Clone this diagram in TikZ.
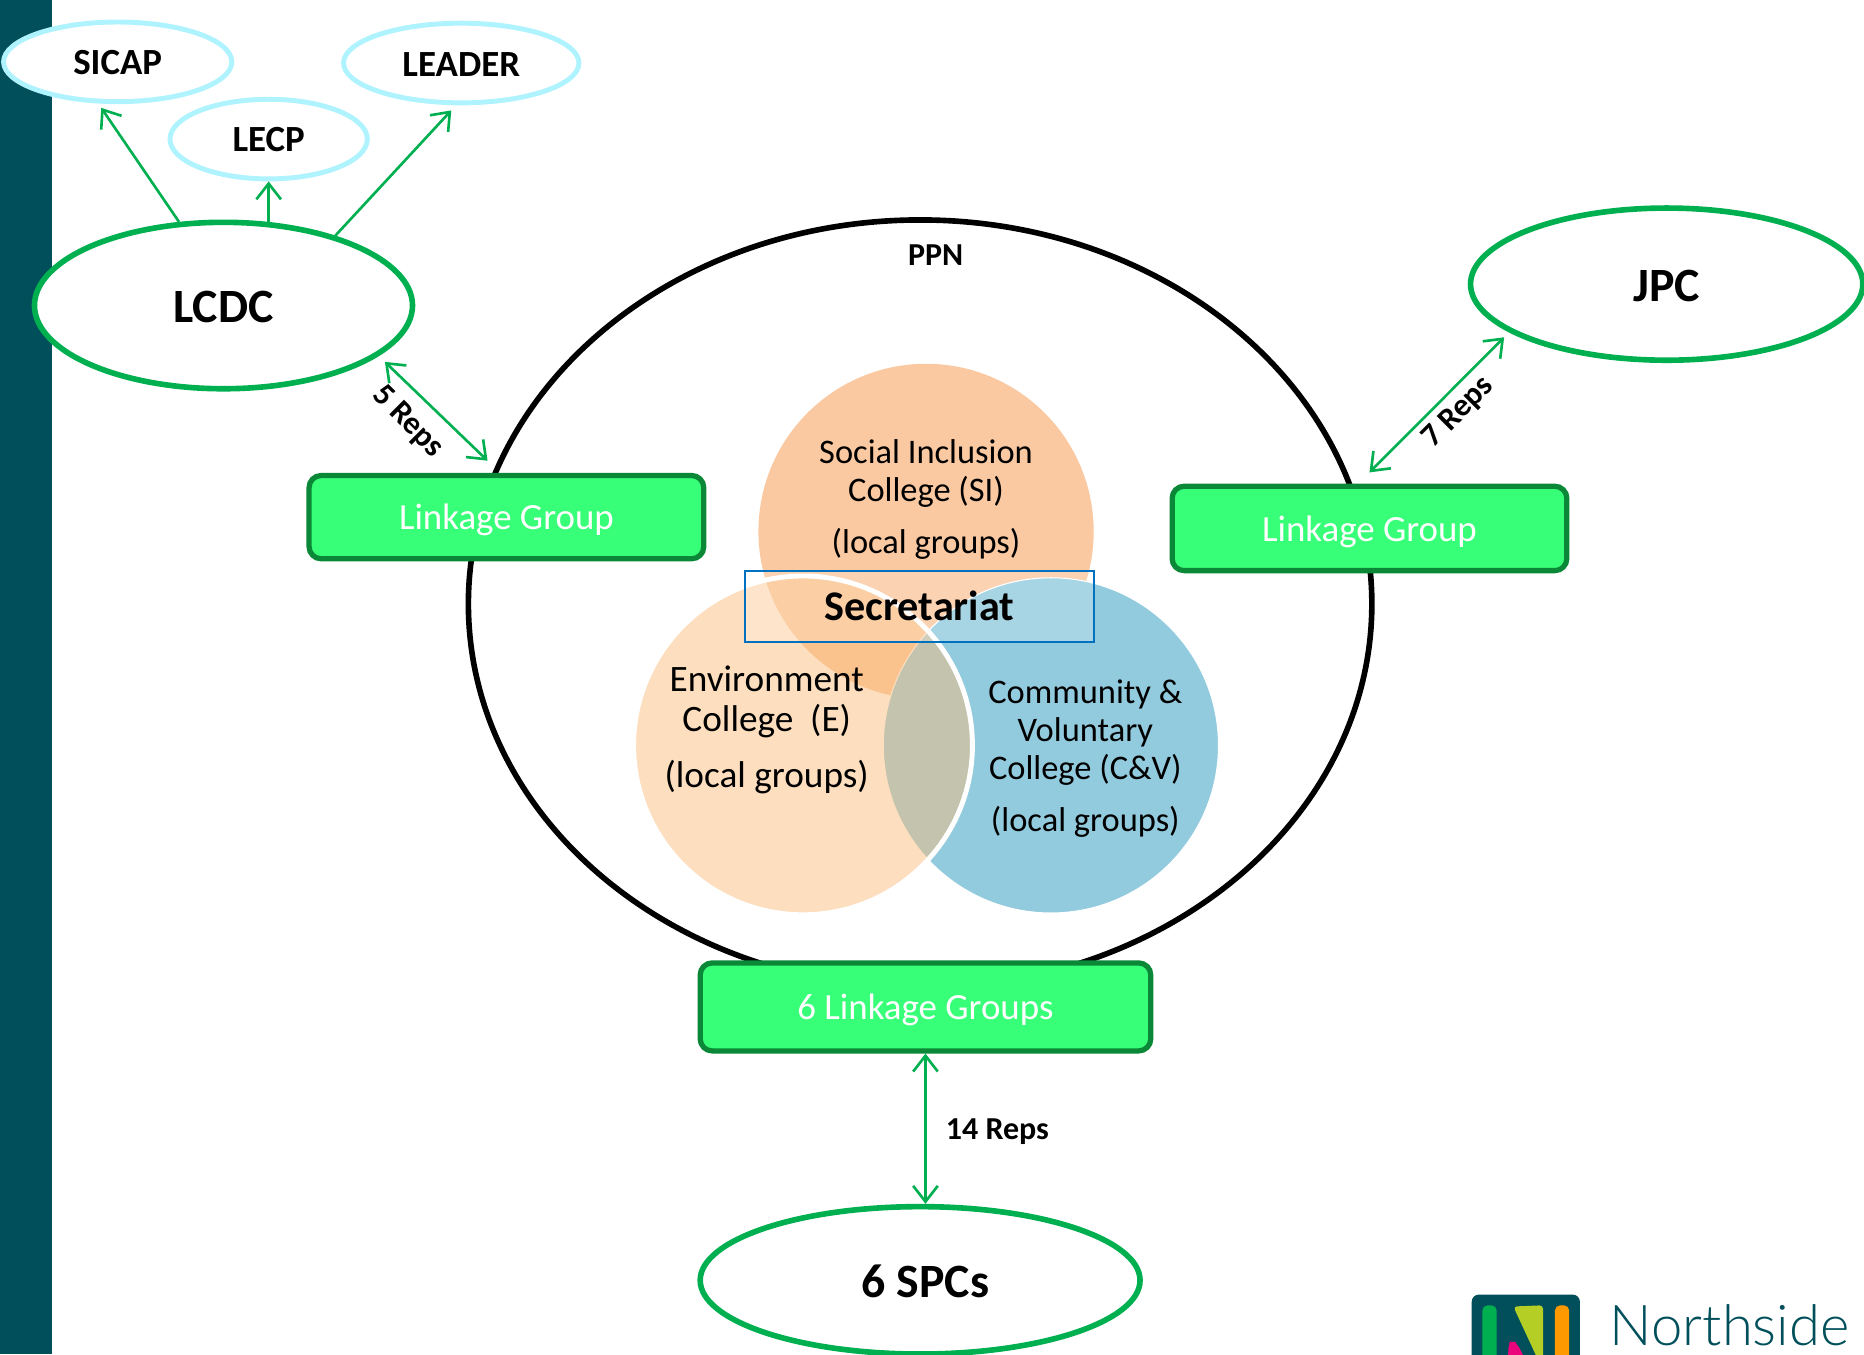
\documentclass[tikz,border=0pt]{standalone}
\usepackage{fontspec}
\setmainfont{Carlito}
\newfontfamily\logofont{Lato Light}
\usetikzlibrary{arrows.meta,shapes.geometric}
\definecolor{sidebar}{RGB}{0,79,90}
\definecolor{linkfill}{RGB}{56,255,120}
\definecolor{linkedge}{RGB}{10,135,55}
\definecolor{bodygreen}{RGB}{0,176,80}
\definecolor{planblue}{RGB}{175,243,255}
\definecolor{SI}{RGB}{250,201,161}
\definecolor{E}{RGB}{251,188,120}
\definecolor{CV}{RGB}{147,203,222}
\definecolor{secblue}{RGB}{0,112,192}
\tikzset{
  pxsize/.style 2 args={minimum width=#1*0.0118878cm,minimum height=#2*0.0118878cm},
  bodyoval/.style={ellipse,draw=bodygreen,fill=white,line width=1.6pt,inner sep=0pt,text height=10pt,font=\bfseries\fontsize{13.6}{16}\selectfont},
  planoval/.style={ellipse,draw=planblue,fill=white,line width=1.4pt,inner sep=0pt,text height=7.4pt,font=\bfseries\fontsize{10.5}{12}\selectfont},
  linkbox/.style={rectangle,rounded corners=0.12cm,draw=linkedge,fill=linkfill,line width=1.5pt,text=white,text depth=0pt,font=\fontsize{10.5}{12}\selectfont},
  collegecircle/.style={circle,pxsize={282}{282},inner sep=0pt},
  collegetext/.style={align=center,font=\fontsize{9.8}{10.8}\selectfont},
  repsline/.style={draw=bodygreen,line width=0.75pt,>={Straight Barb[length=4.5pt,width=7pt]}},
  repstext/.style={font=\bfseries\fontsize{9.1}{11}\selectfont}
}
\begin{document}
\begin{tikzpicture}[x=0.0118878cm,y=-0.0118878cm]
\clip (0,0) rectangle (1568,1139);
\fill[sidebar] (0,0) rectangle (44,1139);
% outer ring
\node[ellipse,draw=black,fill=white,line width=1.6pt,inner sep=0pt,pxsize={760}{646}] (ppn) at (774,508) {};
\node[repstext] (ppntext) at (787,215) {PPN};
% colleges
\node[collegecircle,fill=SI] (sicircle) at (779,447) {};
\node[collegecircle,fill=CV,draw=white,line width=0.3pt] (cvcircle) at (884,627) {};
\node[collegecircle,fill=E,fill opacity=.48,draw=white,draw opacity=1,line width=1.4pt,pxsize={285}{285}] (ecircle) at (675.5,627) {};
\node[collegetext] (sitext) at (779,420) {Social Inclusion\\College (SI)\\[4pt](local groups)};
\node[collegetext,font=\fontsize{10.6}{11.2}\selectfont] (etext) at (645,614) {Environment\\College~~(E)\\[4.8pt](local groups)};
\node[collegetext] (cvtext) at (913,638) {Community \&\\Voluntary\\College (C\&V)\\[4pt](local groups)};
\node[rectangle,draw=secblue,fill=white,fill opacity=.2,text opacity=1,line width=0.5pt,pxsize={293}{60},font=\bfseries\fontsize{12}{14}\selectfont] (secretariat) at (773.5,510) {Secretariat};
% linkage groups
\node[linkbox,pxsize={332}{70}] (leftlink) at (426,435) {Linkage Group};
\node[linkbox,pxsize={332}{71}] (rightlink) at (1152,444.5) {Linkage Group};
\node[linkbox,pxsize={379}{74}] (sixlink) at (778.5,847) {6 Linkage Groups};
% bodies
\node[bodyoval,pxsize={318}{140}] (lcdc) at (188,257) {LCDC};
\node[bodyoval,pxsize={330}{128}] (jpc) at (1402,239) {JPC};
\node[bodyoval,pxsize={370}{124}] (spcs) at (774,1077) {\hspace{3pt}6 SPCs};
\node[planoval,pxsize={192}{67}] (sicap) at (99,52) {SICAP};
\node[planoval,pxsize={166}{67}] (lecp) at (226,117) {LECP};
\node[planoval,pxsize={198}{67}] (leader) at (388,53) {LEADER};
% reps
\draw[repsline,->,shorten >=1.5pt] (lcdc.118) -- (sicap.245);
\draw[repsline,->] (lecp.south |- lcdc.61) -- (lecp.south);
\draw[repsline,->,shorten >=2pt] (lcdc.32) -- (leader.263);
\draw[repsline,<->,shorten <=2.4pt,shorten >=5pt] (lcdc.-18) -- (leftlink.98);
\draw[repsline,<->,shorten <=2pt,shorten >=4.5pt] (jpc.197) -- (rightlink.104);
\draw[repsline,<->] (sixlink.south) -- (sixlink.south |- spcs.north);
\node[repstext,rotate=-45] (fivereps) at (343,355) {5 Reps};
\node[repstext,rotate=45] (sevenreps) at (1227,347) {7 Reps};
\node[repstext] (fourteenreps) at (839,952) {14 Reps};
% logo
\fill[sidebar,rounded corners=2pt] (1238,1089) rectangle (1329,1160);
\fill[bodygreen,rounded corners=1.5pt] (1247,1098) rectangle (1259,1160);
\fill[yellow!75!green!90!black,rounded corners=1pt] (1273,1099) -- (1298,1098) -- (1298,1153) -- cycle;
\fill[magenta!85!red,rounded corners=1.5pt] (1268,1160) -- (1269,1130) -- (1272,1127) -- (1276,1130) -- (1292,1160) -- cycle;
\fill[orange!80!yellow,rounded corners=1.5pt] (1308,1098) rectangle (1320,1160);
\node[text=sidebar,font=\logofont\fontsize{16}{19}\selectfont,inner sep=0pt] (logotext) at (1455,1115) {Northside};
\end{tikzpicture}
\end{document}
